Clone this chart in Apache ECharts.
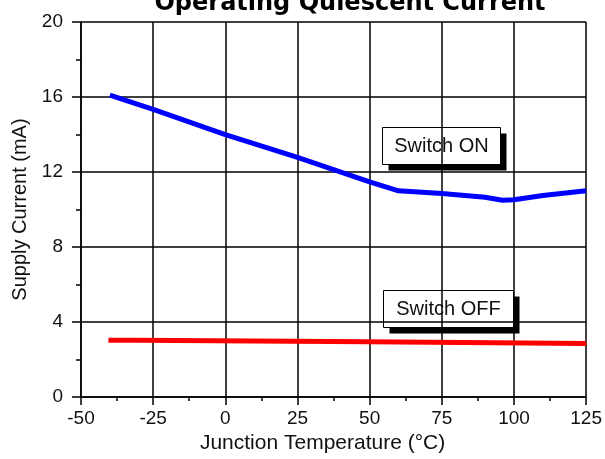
<!DOCTYPE html>
<html><head><meta charset="utf-8">
<script src="https://cdn.jsdelivr.net/npm/echarts@6/dist/echarts.min.js"></script>
<style>html,body{margin:0;padding:0;background:#fff}#c{width:605px;height:459px}</style>
</head><body><div id="c"></div>
<script>
const titleText = 'Operating Quiescent Current';
const xName = 'Junction Temperature (°C)';
const yName = 'Supply Current (mA)';
const onTemps =   [-40, -25, 0, 25, 50, 60, 75, 90, 96, 100, 110, 125];
const onValues =  [16.1, 15.34, 14.0, 12.78, 11.48, 11.0, 10.86, 10.66, 10.5, 10.52, 10.75, 11.0];
const offTemps =  [-40.5, -30.2, -30.2, 49.5, 49.5, 125];
const offValues = [3.03, 3.03, 2.95, 2.95, 2.86, 2.86];
const onLabel = 'Switch ON';
const offLabel = 'Switch OFF';

const chart = echarts.init(document.getElementById('c'), null, {renderer: 'canvas'});
const font = 'Arial, "Liberation Sans", sans-serif';
function box(x, y, w, h, text) {
  return {
    type: 'group', left: x, top: y,
    children: [
      {type: 'rect', shape: {x: 6, y: 6, width: w, height: h}, style: {fill: '#000'}},
      {type: 'rect', shape: {x: 0, y: 0, width: w, height: h}, style: {fill: '#fff', stroke: '#000', lineWidth: 1}},
      {type: 'text', x: w / 2, y: h / 2, style: {text: text, font: '20px ' + font, fill: '#111', align: 'center', verticalAlign: 'middle'}}
    ]
  };
}
chart.setOption({
  animation: false,
  backgroundColor: '#fff',
  title: {text: titleText, left: 345, textAlign: 'center', top: -13,
          textStyle: {fontSize: 24, fontWeight: 'bold', color: '#000', fontFamily: '"DejaVu Sans", Arial, sans-serif'}},
  grid: {left: 81, right: 18, top: 22, bottom: 61},
  xAxis: {
    type: 'value', min: -50, max: 125, interval: 25,
    name: xName, nameLocation: 'middle', nameGap: 35,
    nameTextStyle: {fontSize: 21, color: '#111', fontFamily: font, padding: [0, 22, 0, 0]},
    axisLine: {show: true, onZero: false, lineStyle: {color: '#000', width: 1.5}},
    axisTick: {show: true, inside: false, length: 8, lineStyle: {color: '#000', width: 1.5}},
    minorTick: {show: true, splitNumber: 2, length: 4, lineStyle: {color: '#000', width: 1.5}},
    axisLabel: {fontSize: 19, color: '#111', margin: 12, fontFamily: font},
    splitLine: {show: true, lineStyle: {color: '#000', width: 1.5}}
  },
  yAxis: {
    type: 'value', min: 0, max: 20, interval: 4,
    name: yName, nameLocation: 'middle', nameGap: 48, nameRotate: 90,
    nameTextStyle: {fontSize: 20, color: '#111', fontFamily: font},
    axisLine: {show: true, onZero: false, lineStyle: {color: '#000', width: 1.5}},
    axisTick: {show: true, inside: false, length: 9, lineStyle: {color: '#000', width: 1.5}},
    minorTick: {show: true, splitNumber: 2, length: 5, lineStyle: {color: '#000', width: 1.5}},
    axisLabel: {fontSize: 19, color: '#111', margin: 18, fontFamily: font},
    splitLine: {show: true, lineStyle: {color: '#000', width: 1.5}}
  },
  series: [
    {type: 'line', name: onLabel, data: onTemps.map((t, i) => [t, onValues[i]]), showSymbol: false,
     lineStyle: {color: '#0000ff', width: 5}, z: 5},
    {type: 'line', name: offLabel, data: offTemps.map((t, i) => [t, offValues[i]]), showSymbol: false,
     lineStyle: {color: '#ff0000', width: 5}, z: 5}
  ],
  graphic: [
    box(382, 127, 118, 37, onLabel),
    box(383, 290, 130, 37, offLabel)
  ]
});
</script></body></html>
